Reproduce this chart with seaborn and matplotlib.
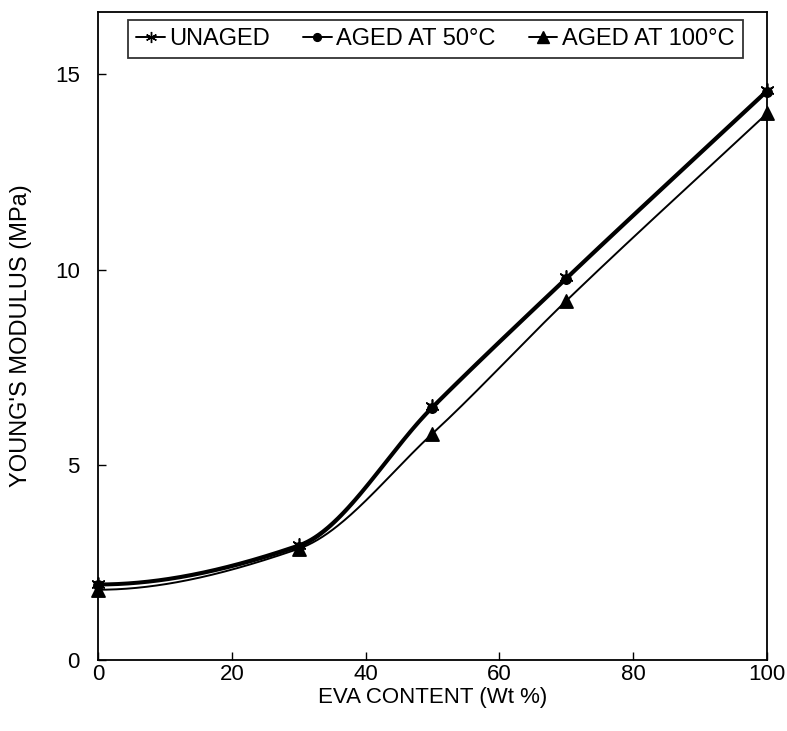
import numpy as np
import pandas as pd
import matplotlib
matplotlib.use("Agg")
import matplotlib.pyplot as plt
import seaborn as sns

eva = [0, 30, 50, 70, 100]
unaged = [1.95, 2.95, 6.5, 9.8, 14.6]
aged50 = [1.92, 2.9, 6.45, 9.75, 14.55]
aged100 = [1.8, 2.85, 5.8, 9.2, 14.0]
series_names = ["UNAGED", "AGED AT 50°C", "AGED AT 100°C"]
xticks = [0, 20, 40, 60, 80, 100]
yticks = [0, 5, 10, 15]

sns.set_theme(style="white")
plt.rcParams['font.family'] = ['Liberation Sans', 'DejaVu Sans']
plt.rcParams['text.color'] = 'black'
plt.rcParams['axes.labelcolor'] = 'black'

def smooth(x, y, xs):
    # monotone cubic Hermite through the data points, flat start
    x = np.asarray(x, float); y = np.asarray(y, float)
    h = np.diff(x); d = np.diff(y) / h
    m = np.zeros_like(y)
    for k in range(1, len(x) - 1):
        if d[k-1] * d[k] > 0:
            w1 = 2 * h[k] + h[k-1]; w2 = h[k] + 2 * h[k-1]
            m[k] = (w1 + w2) / (w1 / d[k-1] + w2 / d[k])
    m[0] = 0.0; m[-1] = d[-1]
    out = np.empty_like(xs)
    for i, xv in enumerate(xs):
        k = min(np.searchsorted(x, xv, side='right') - 1, len(x) - 2)
        t = (xv - x[k]) / h[k]
        h00 = 2*t**3 - 3*t**2 + 1; h10 = t**3 - 2*t**2 + t
        h01 = -2*t**3 + 3*t**2; h11 = t**3 - t**2
        out[i] = h00*y[k] + h10*h[k]*m[k] + h01*y[k+1] + h11*h[k]*m[k+1]
    return out

fig = plt.figure(figsize=(7.87, 7.31), dpi=100)
ax = fig.add_axes([0.1245, 0.0971, 0.85, 0.8865])

df = pd.DataFrame({"EVA": eva * 3,
                   "E": unaged + aged50 + aged100,
                   "series": sum([[n] * len(eva) for n in series_names], [])})

xs = np.linspace(0, 100, 400)
markers = [(6, 2, 0), "o", "^"]
lws = [2.0, 2.0, 1.4]
handles = []
for name, m, lw in zip(series_names, markers, lws):
    sub = df[df.series == name]
    ys = smooth(sub.EVA.values, sub.E.values, xs)
    sns.lineplot(x=xs, y=ys, ax=ax, color="black", lw=lw, legend=False)
    ms = 10 if m != "o" else 7
    sns.scatterplot(x=sub.EVA, y=sub.E, ax=ax, color="black", marker=m,
                    s=ms**2 * 0.9, linewidth=1.2, edgecolor="black", legend=False,
                    clip_on=False, zorder=5)
    h, = ax.plot([], [], color="black", lw=1.4, marker=m, markersize=ms * 0.8,
                 markeredgewidth=1.0)
    handles.append(h)

ax.set_xlim(0, 100)
ax.set_ylim(0, 16.6)
ax.set_xticks(xticks)
ax.set_yticks(yticks)
ax.tick_params(direction="in", length=6, width=1, colors="black",
               bottom=True, left=True, top=False, right=False)
ax.tick_params(axis="x", labelsize=16, pad=3)
ax.tick_params(axis="y", labelsize=16, pad=13)
for s in ax.spines.values():
    s.set_color("black"); s.set_linewidth(1.3)
ax.set_xlabel("EVA CONTENT (Wt %)", fontsize=16, labelpad=1, color="black")
ax.set_ylabel("YOUNG'S MODULUS (MPa)", fontsize=17, color="black")
ax.yaxis.set_label_coords(-0.099, 0.5)

leg = ax.legend(handles, series_names, loc="upper left", ncol=3,
                bbox_to_anchor=(0.045, 0.988), fontsize=17, frameon=True,
                fancybox=False, edgecolor="black", handlelength=1.2,
                handletextpad=0.2, columnspacing=1.4, borderpad=0.35,
                borderaxespad=0)
leg.get_frame().set_linewidth(1.3)
for t in leg.get_texts():
    t.set_color("black")

fig.savefig("out.png", dpi=100)
